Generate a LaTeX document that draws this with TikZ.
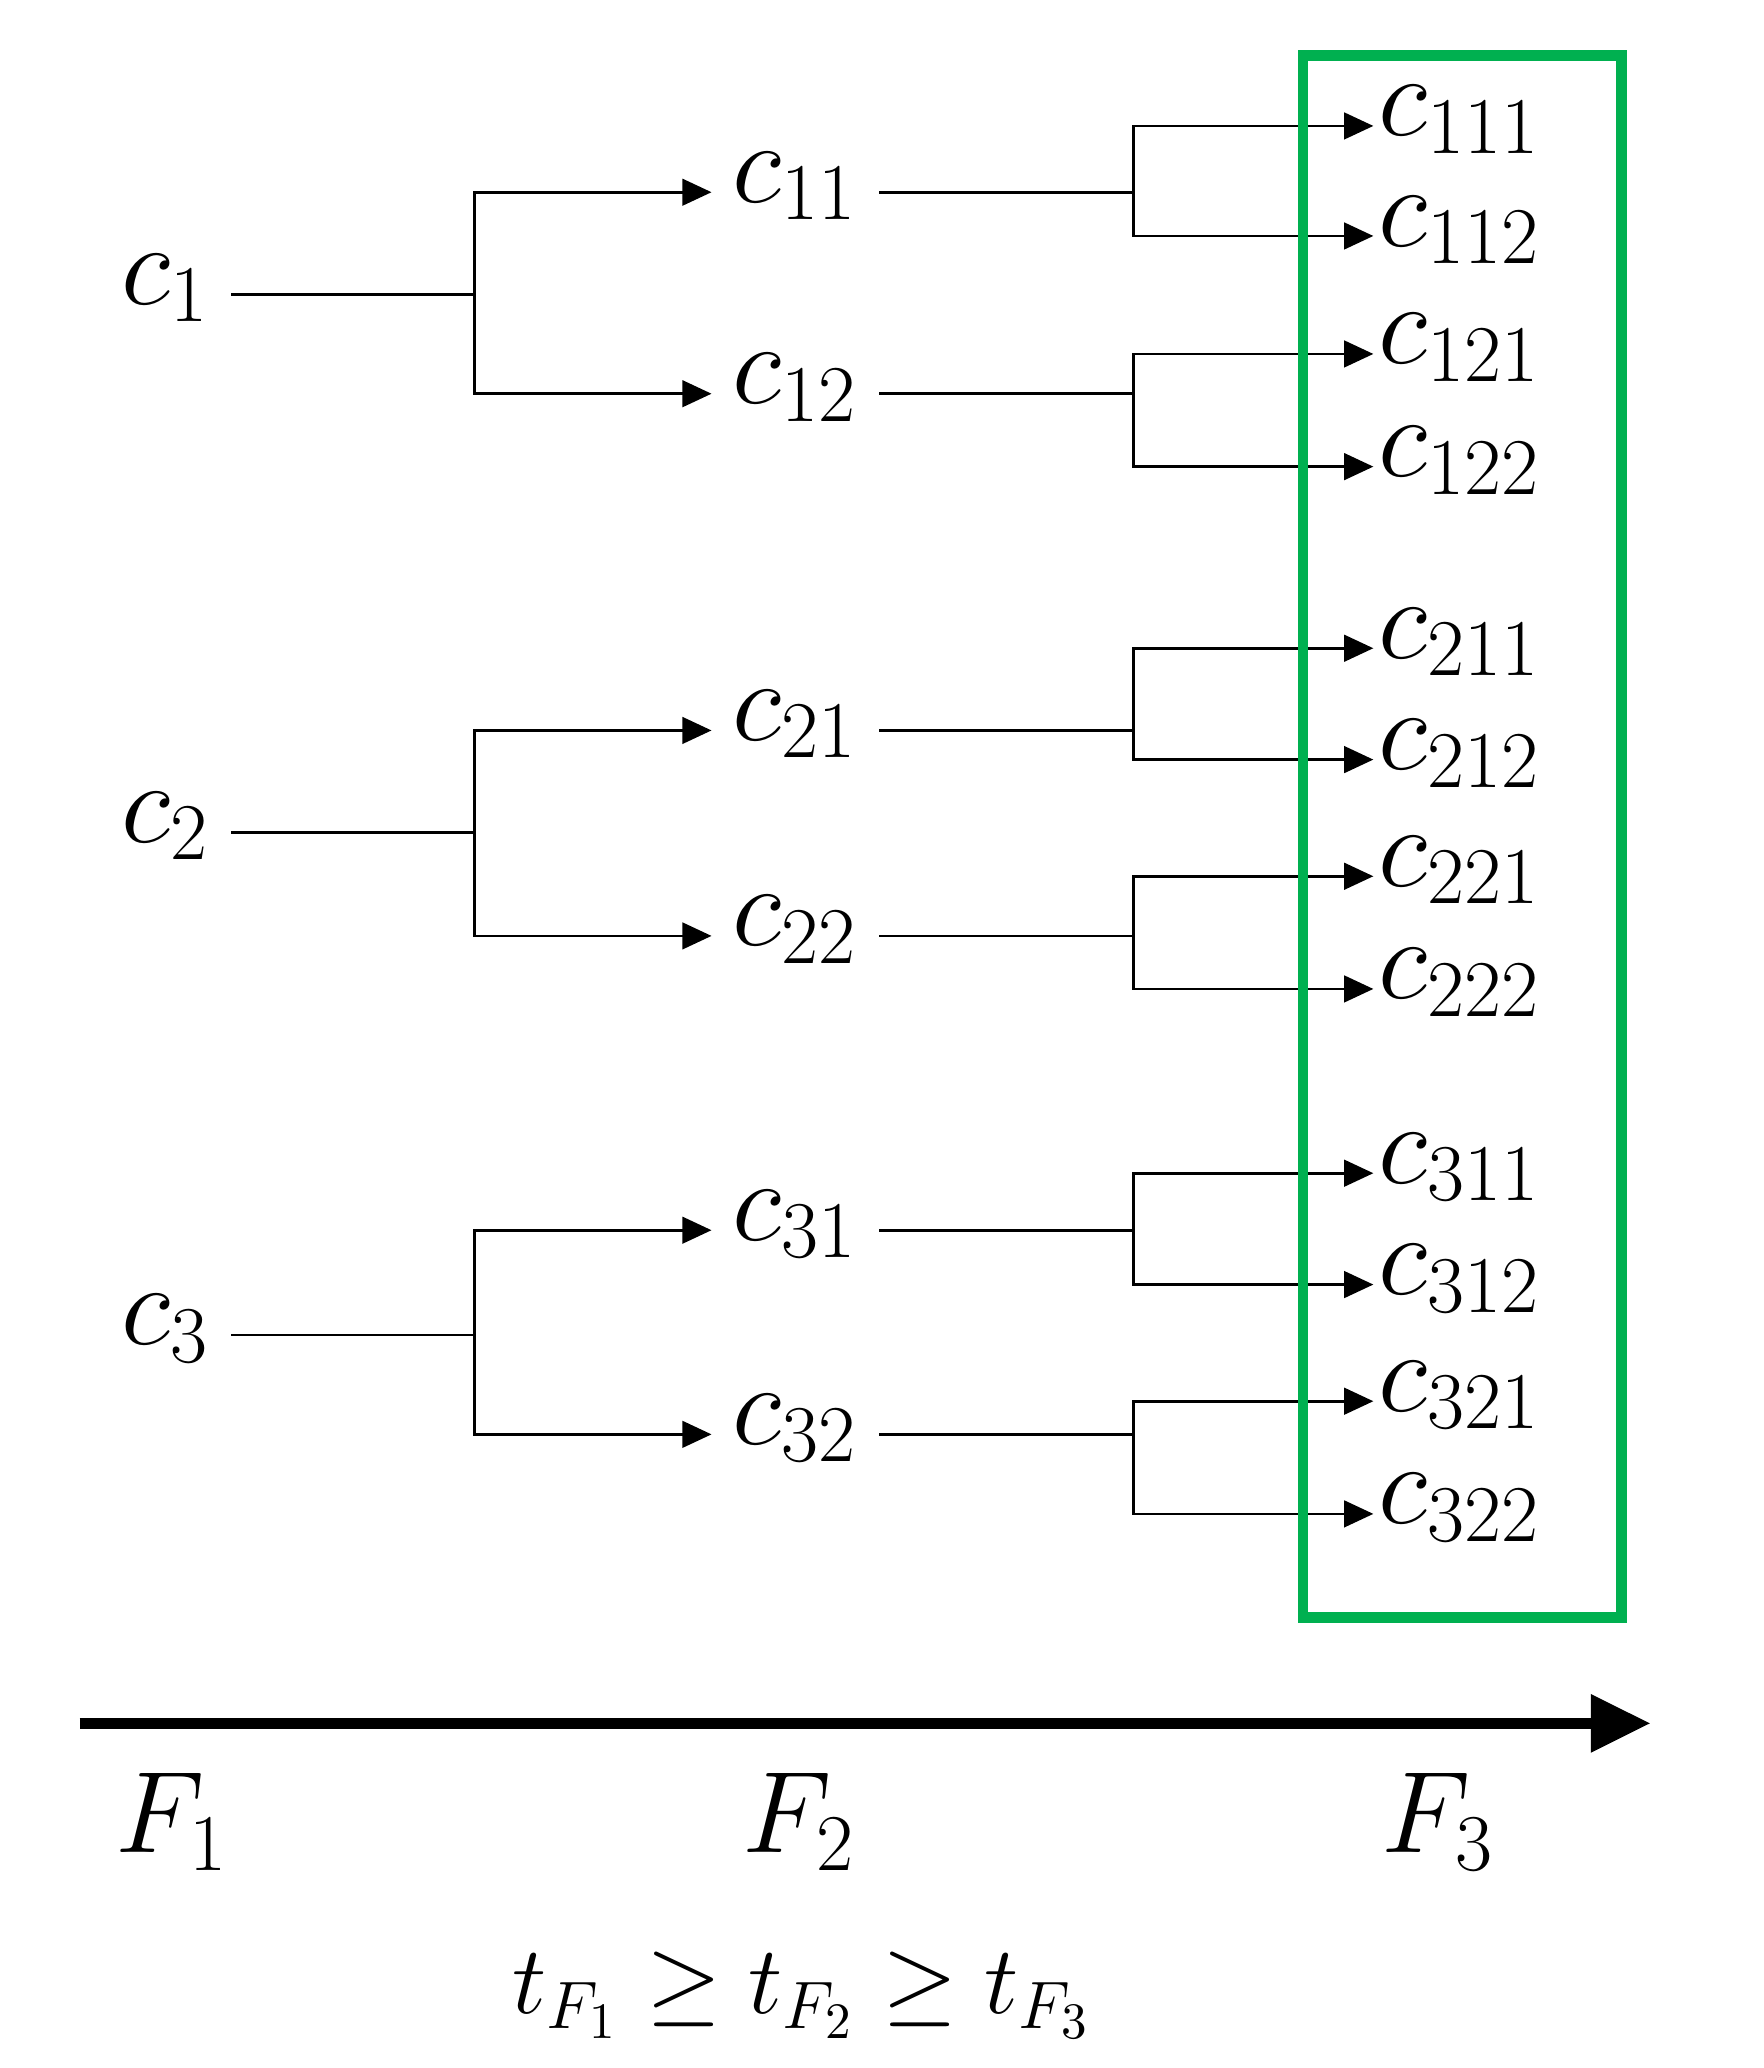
\documentclass[tikz,border=0pt]{standalone}
\usepackage{amsmath}
\usetikzlibrary{arrows.meta}
\definecolor{boxgreen}{RGB}{0,176,80}

\begin{document}
\begin{tikzpicture}[x=0.01cm,y=-0.01cm,semithick,
    lbl/.style={font=\fontsize{27}{30}\selectfont, text height=1.3ex, text depth=0.3ex, inner xsep=0.15cm},
    leaf/.style={lbl, anchor=west, inner xsep=0.03cm},
    tip/.style={-{Triangle[length=0.22cm,width=0.2cm]}}]
        \useasboundingbox (0,0) rectangle (1330,1560);

        % the three root nodes and their children
        \foreach \i/\ry/\ya/\yb in {1/222/145/297, 2/628/551/706, 3/1007/928/1082} {
            \node[lbl] (c\i) at (125,\ry) {$c_{\i}$};
            \coordinate (j\i) at (358,\ry);
            \node[lbl] (c\i1) at (600,\ya) {$c_{\i1}$};
            \node[lbl] (c\i2) at (600,\yb) {$c_{\i2}$};
            \draw (c\i) -- (j\i);
            \draw[tip] (j\i) |- (c\i1);
            \draw[tip] (j\i) |- (c\i2);
        }

        % leaves
        \foreach \i/\k/\my/\ya/\yb in {1/1/145/95/178, 1/2/297/267/352,
                                     2/1/551/489/573, 2/2/706/661/746,
                                     3/1/928/885/969, 3/2/1082/1057/1142} {
            \coordinate (j\i\k) at (855,\my);
            \node[leaf] (c\i\k1) at (1036,\ya) {$c_{\i\k1}$};
            \node[leaf] (c\i\k2) at (1036,\yb) {$c_{\i\k2}$};
            \draw (c\i\k) -- (j\i\k);
            \draw[tip] (j\i\k) |- (c\i\k1.west);
            \draw[tip] (j\i\k) |- (c\i\k2.west);
        }

        \draw[boxgreen, line width=0.08cm] (983,42) rectangle (1223,1220);

        % time axis
        \coordinate (a0) at (60,1300);
        \coordinate (a1) at (1245,1300);
        \draw[line width=0.08cm, -{Triangle[length=0.45cm,width=0.42cm]}] (a0) -- (a1);
        \node[lbl] (f1) at (130,1390) {$F_1$};
        \node[lbl] (f2) at (603,1390) {$F_2$};
        \node[lbl] (f3) at (1085,1390) {$F_3$};
        \node[font=\fontsize{21}{24}\selectfont] (ord) at (605,1505) {$t_{F_1}\geq t_{F_2}\geq t_{F_3}$};
\end{tikzpicture}
\end{document}
